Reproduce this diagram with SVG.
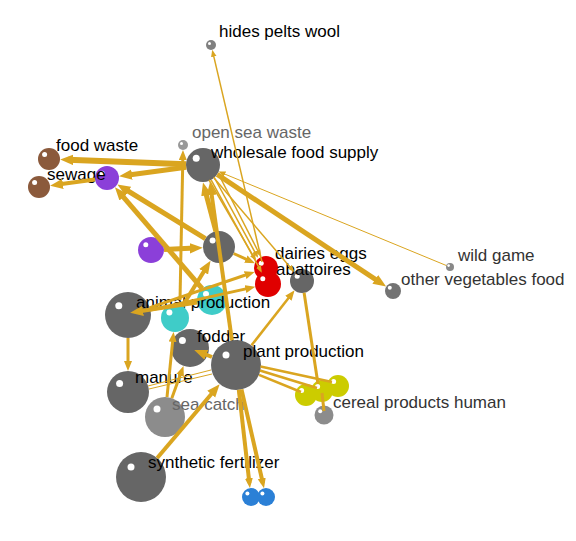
<svg xmlns="http://www.w3.org/2000/svg" width="576" height="541" viewBox="0 0 576 541">
<defs>
<style>
.e{stroke:#DAA520;fill:none;stroke-linecap:butt}
.t1{stroke-width:1}
.t15{stroke-width:1.5}
.t25{stroke-width:2.5}
.t3{stroke-width:3}
.t4{stroke-width:4}
.t5{stroke-width:5}
.t6{stroke-width:6}
.big{marker-end:url(#ab)}
.med{marker-end:url(#am)}
.sml{marker-end:url(#as)}
text{font-family:"Liberation Sans",Arial,Helvetica,sans-serif;font-size:17px;fill:#000}
text.lg{fill:#666}
text.dg{fill:#333}
.hl{fill:#fff}
.dk{fill:#666}
.br{fill:#8B5A3C}
.pu{fill:#8B3FD9}
.tl{fill:#3FCCC8}
.rd{fill:#E00000}
.ye{fill:#CCCC00}
.bl{fill:#2B80D6}
</style>
<marker id="ab" viewBox="0 0 10 8" refX="4" refY="4" markerWidth="13" markerHeight="11" markerUnits="userSpaceOnUse" orient="auto"><path d="M0,0L10,4L0,8z" fill="#DAA520"/></marker>
<marker id="am" viewBox="0 0 10 8" refX="5" refY="4" markerWidth="10" markerHeight="8" markerUnits="userSpaceOnUse" orient="auto"><path d="M0,0L10,4L0,8z" fill="#DAA520"/></marker>
<marker id="as" viewBox="0 0 10 8" refX="7" refY="4" markerWidth="7" markerHeight="6" markerUnits="userSpaceOnUse" orient="auto"><path d="M0,0L10,4L0,8z" fill="#DAA520"/></marker>
</defs>
<rect width="576" height="541" fill="#fff"/>
<g id="nodes">
<g id="n-grey3"><circle cx="219" cy="247" r="16" class="dk"/><circle cx="212.6" cy="240.6" r="3" class="hl"/></g>
<g id="n-purple1"><circle cx="107" cy="178" r="12" class="pu"/><circle cx="102.2" cy="173.2" r="2.5" class="hl"/></g>
<g id="n-purple2"><circle cx="151" cy="250" r="13" class="pu"/><circle cx="145.8" cy="244.8" r="2.5" class="hl"/></g>
<g id="n-wholesale"><circle cx="203" cy="165" r="17" class="dk"/><circle cx="196.2" cy="158.2" r="3.5" class="hl"/><text x="211" y="158">wholesale food supply</text></g>
<g id="n-foodwaste"><circle cx="49" cy="159" r="11" class="br"/><circle cx="44.6" cy="154.6" r="2.5" class="hl"/><text x="56" y="151">food waste</text></g>
<g id="n-sewage"><circle cx="39" cy="187" r="11" class="br"/><circle cx="34.6" cy="182.6" r="2.5" class="hl"/><text x="47" y="180">sewage</text></g>
<g id="n-opensea"><circle cx="183" cy="145" r="5" fill="#999"/><circle cx="181.5" cy="143.5" r="1.5" class="hl"/><text x="192" y="138" class="lg">open sea waste</text></g>
<g id="n-hides"><circle cx="211" cy="45" r="5" fill="#808080"/><circle cx="209.5" cy="43.5" r="1.5" class="hl"/><text x="219" y="37">hides pelts wool</text></g>
<g id="n-wildgame"><circle cx="450" cy="267" r="4" fill="#888"/><circle cx="448.6" cy="265.6" r="1.3" class="hl"/><text x="458" y="261" class="dg">wild game</text></g>
<g id="n-otherveg"><circle cx="393" cy="291" r="8" fill="#737373"/><circle cx="389.8" cy="287.8" r="2" class="hl"/><text x="401" y="285" class="dg">other vegetables food</text></g>
<g id="n-grey4"><circle cx="302" cy="281" r="12" class="dk"/><circle cx="297.2" cy="276.2" r="2.5" class="hl"/></g>
<g id="n-dairies"><circle cx="266" cy="268" r="12" class="rd"/><circle cx="261.2" cy="263.2" r="2.5" class="hl"/><text x="275" y="259">dairies eggs</text></g>
<g id="n-abattoires"><circle cx="268" cy="284" r="13" class="rd"/><circle cx="262.8" cy="278.8" r="2.5" class="hl"/><text x="276" y="275">abattoires</text></g>
<g id="n-teal1"><circle cx="212" cy="300" r="15" class="tl"/><circle cx="206" cy="294" r="3" class="hl"/></g>
<g id="n-animal"><circle cx="128" cy="315" r="23" class="dk"/><circle cx="118.8" cy="305.8" r="3.5" class="hl"/><text x="136" y="308">animal production</text></g>
<g id="n-teal2"><circle cx="175" cy="318" r="14" class="tl"/><circle cx="169.4" cy="312.4" r="3" class="hl"/></g>
<g id="n-fodder"><circle cx="190" cy="348" r="19" class="dk"/><circle cx="182.4" cy="340.4" r="3.5" class="hl"/><text x="197" y="342">fodder</text></g>
<g id="n-seacatch"><circle cx="165" cy="417" r="20" fill="#8C8C8C"/><circle cx="157" cy="409" r="3.5" class="hl"/><text x="172" y="410" class="lg">sea catch</text></g>
<g id="n-manure"><circle cx="128" cy="392" r="21" class="dk"/><circle cx="119.6" cy="383.6" r="3.5" class="hl"/><text x="135" y="383">manure</text></g>
<g id="n-plant"><circle cx="236" cy="365" r="25" class="dk"/><circle cx="226" cy="355" r="3.5" class="hl"/><text x="243" y="357">plant production</text></g>
<g id="n-synth"><circle cx="141" cy="477" r="25" class="dk"/><circle cx="131" cy="467" r="3.5" class="hl"/><text x="148" y="468">synthetic fertilizer</text></g>
<g id="n-blue1"><circle cx="251" cy="497" r="9" class="bl"/><circle cx="247.4" cy="493.4" r="2" class="hl"/></g>
<g id="n-blue2"><circle cx="266" cy="497" r="9" class="bl"/><circle cx="262.4" cy="493.4" r="2" class="hl"/></g>
<g id="n-yellow3"><circle cx="338" cy="386" r="11" class="ye"/><circle cx="333.6" cy="381.6" r="2.5" class="hl"/></g>
<g id="n-yellow2"><circle cx="322" cy="391" r="11" class="ye"/><circle cx="317.6" cy="386.6" r="2.5" class="hl"/></g>
<g id="n-yellow1"><circle cx="306" cy="395" r="11" class="ye"/><circle cx="301.6" cy="390.6" r="2.5" class="hl"/></g>
<g id="n-cereal"><circle cx="324" cy="415" r="9.5" fill="#8C8C8C"/><circle cx="320.2" cy="411.2" r="2" class="hl"/><text x="333" y="408" class="dg">cereal products human</text></g>
</g>
<g id="edges">
<path class="e t6 big" d="M186,164.3L68,159.7"/>
<path class="e t5 big" d="M186.2,167.3L126.8,175.3"/>
<path class="e t4 big" d="M95.1,179.6L57.8,184.6"/>
<path class="e t5 big" d="M205.4,238.6L124,188.5"/>
<path class="e t5 big" d="M202.2,288.6L120,193.2"/>
<path class="e t5 big" d="M164,249.4L195,248"/>
<path class="e t5 big" d="M215.9,231.3L205,190"/>
<path class="e t4 big" d="M231.9,340.3L211,190"/>
<path class="e t15 sml" d="M214,177L257,256"/>
<path class="e t15 sml" d="M209,180L255,259"/>
<path class="e t15 sml" d="M219,175L260,255"/>
<path class="e t15 sml" d="M211.1,179.9L260.8,270.8"/>
<path class="e t15 sml" d="M214,177.9L292.9,270.4"/>
<path class="e t5 big" d="M217.2,174.4L379.6,282.2"/>
<path class="e t1 sml" d="M446.3,265.5L220.5,172.3"/>
<path class="e t15 sml" d="M262,262L212.7,51.8"/>
<path class="e t3 med" d="M180,300L182.9,155"/>
<path class="e t3 med" d="M149.8,307.6L249.9,273.5"/>
<path class="e t3 med" d="M150.4,310L250.4,287.9"/>
<path class="e t4 big" d="M197.2,302.6L137.9,311.6"/>
<path class="e t3 med" d="M128,338L128,366"/>
<path class="e t4 big" d="M212,357L201.5,352.9"/>
<path class="e t1" d="M211,370L148,386"/>
<path class="e t1" d="M212,374L149,389"/>
<path class="e t3 med" d="M167,397.1L173.1,336.9"/>
<path class="e t3 med" d="M171.8,398.2L181.8,370.6"/>
<path class="e t4 big" d="M157.2,458L214.6,390.2"/>
<path class="e t4 med" d="M238.8,389.8L249.4,483.1"/>
<path class="e t4 med" d="M241.5,389.4L262.9,483.3"/>
<path class="e t25" d="M259,374.8L301,392"/>
<path class="e t25" d="M259.9,370.5L317,388"/>
<path class="e t25" d="M260.5,366.5L332,382"/>
<path class="e t3" d="M304.1,292.8L318,384"/>
<path class="e t3" d="M322,393L324,411"/>
<path class="e t25 med" d="M251.5,345.3L291.5,294.3"/>
<path class="e t3 med" d="M233.6,253.5L250.4,261.1"/>
<path class="e t4 big" d="M182.4,306.1L206.4,267.4"/>
</g>
</svg>
